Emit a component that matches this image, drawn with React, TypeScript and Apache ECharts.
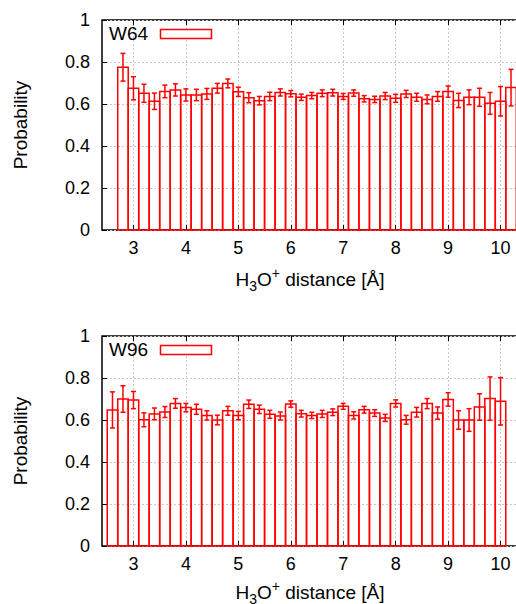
import React, { useEffect, useRef } from 'react';
import * as echarts from 'echarts';

const xTickValues = [3, 4, 5, 6, 7, 8, 9, 10];
const binWidth = 0.2;

const w64X = [2.8, 3.0, 3.2, 3.4, 3.6, 3.8, 4.0, 4.2, 4.4, 4.6, 4.8, 5.0, 5.2, 5.4, 5.6, 5.8, 6.0, 6.2, 6.4, 6.6, 6.8, 7.0, 7.2, 7.4, 7.6, 7.8, 8.0, 8.2, 8.4, 8.6, 8.8, 9.0, 9.2, 9.4, 9.6, 9.8, 10.0, 10.2];
const w64Values = [0.775, 0.675, 0.651, 0.613, 0.660, 0.667, 0.643, 0.643, 0.648, 0.675, 0.698, 0.658, 0.630, 0.616, 0.636, 0.655, 0.649, 0.632, 0.640, 0.651, 0.654, 0.636, 0.652, 0.625, 0.622, 0.638, 0.627, 0.648, 0.632, 0.622, 0.636, 0.659, 0.617, 0.632, 0.632, 0.603, 0.613, 0.678];
const w64Err = [0.066, 0.055, 0.043, 0.039, 0.030, 0.029, 0.029, 0.027, 0.026, 0.023, 0.021, 0.022, 0.024, 0.020, 0.020, 0.017, 0.015, 0.015, 0.015, 0.016, 0.016, 0.014, 0.015, 0.015, 0.015, 0.017, 0.019, 0.017, 0.019, 0.021, 0.023, 0.027, 0.034, 0.035, 0.043, 0.052, 0.070, 0.087];

const w96X = [2.6, 2.8, 3.0, 3.2, 3.4, 3.6, 3.8, 4.0, 4.2, 4.4, 4.6, 4.8, 5.0, 5.2, 5.4, 5.6, 5.8, 6.0, 6.2, 6.4, 6.6, 6.8, 7.0, 7.2, 7.4, 7.6, 7.8, 8.0, 8.2, 8.4, 8.6, 8.8, 9.0, 9.2, 9.4, 9.6, 9.8, 10.0];
const w96Values = [0.648, 0.700, 0.695, 0.601, 0.629, 0.638, 0.679, 0.659, 0.651, 0.622, 0.600, 0.644, 0.621, 0.675, 0.651, 0.627, 0.619, 0.676, 0.630, 0.622, 0.629, 0.637, 0.665, 0.622, 0.649, 0.633, 0.610, 0.679, 0.601, 0.637, 0.678, 0.633, 0.698, 0.600, 0.600, 0.662, 0.702, 0.689];
const w96Err = [0.086, 0.063, 0.041, 0.033, 0.028, 0.026, 0.023, 0.020, 0.024, 0.022, 0.023, 0.021, 0.020, 0.020, 0.020, 0.019, 0.019, 0.015, 0.016, 0.015, 0.017, 0.016, 0.014, 0.017, 0.016, 0.016, 0.017, 0.017, 0.021, 0.023, 0.024, 0.029, 0.032, 0.044, 0.054, 0.063, 0.103, 0.113];

const seriesNames = ['W64', 'W96'];

const RED = '#ff0000';
const FONT = 'Liberation Sans, Arial, Helvetica, sans-serif';
const FS = 18;
const TFS = 19;

function renderBar(params: any, api: any) {
  const x = api.value(0);
  const y = api.value(1);
  const e = api.value(2);
  const pL = api.coord([x - binWidth / 2, 0]);
  const pR = api.coord([x + binWidth / 2, y]);
  const pTop = api.coord([x, y + e]);
  const pBot = api.coord([x, y - e]);
  const cx = (pL[0] + pR[0]) / 2;
  const cap = 2.5;
  const ls = { stroke: RED, lineWidth: 1.5 };
  return {
    type: 'group',
    children: [
      { type: 'rect', shape: { x: pL[0], y: pR[1], width: pR[0] - pL[0], height: pL[1] - pR[1] }, style: { fill: 'none', stroke: RED, lineWidth: 1.5 } },
      { type: 'line', shape: { x1: cx, y1: pTop[1], x2: cx, y2: pBot[1] }, style: ls },
      { type: 'line', shape: { x1: cx - cap, y1: pTop[1], x2: cx + cap, y2: pTop[1] }, style: ls },
      { type: 'line', shape: { x1: cx - cap, y1: pBot[1], x2: cx + cap, y2: pBot[1] }, style: ls },
    ],
  };
}

export default function App() {
  const ref = useRef<HTMLDivElement>(null);
  useEffect(() => {
    if (!ref.current) return;
    const chart = echarts.init(ref.current, null, { renderer: 'svg' });
    const gridTops = [20, 336];
    const plotH = 210;
    const grids = gridTops.map((t) => ({
      left: 102, top: t, width: 430, height: plotH, show: true,
      borderColor: '#000', borderWidth: 1.5, backgroundColor: 'transparent',
    }));
    const xAxes: any[] = [];
    const yAxes: any[] = [];
    [0, 1].forEach((g) => {
      xAxes.push({
        type: 'value', gridIndex: g, min: 2.4, max: 10.6, position: 'bottom',
        axisLine: { show: false },
        axisTick: { show: true, inside: true, length: 5, customValues: xTickValues, lineStyle: { color: '#000', width: 1 } },
        axisLabel: { show: true, customValues: xTickValues, margin: 9, fontSize: FS, color: '#000', fontFamily: FONT },
        splitLine: { show: true, lineStyle: { color: '#c8c8c8', type: [2, 2], width: 1 } },
      });
      xAxes.push({
        type: 'value', gridIndex: g, min: 2.4, max: 10.6, position: 'top',
        axisLine: { show: false },
        axisTick: { show: true, inside: true, length: 5, customValues: xTickValues, lineStyle: { color: '#000', width: 1 } },
        axisLabel: { show: false },
        splitLine: { show: false },
      });
      yAxes.push({
        type: 'value', gridIndex: g, min: 0, max: 1, interval: 0.2,
        axisLine: { show: false },
        axisTick: { show: true, inside: true, length: 5, lineStyle: { color: '#000', width: 1 } },
        axisLabel: { margin: 12, fontSize: FS, color: '#000', fontFamily: FONT },
        splitLine: { show: true, lineStyle: { color: '#c8c8c8', type: [2, 2], width: 1 } },
      });
    });

    const xTitle = (y: number) => ({
      type: 'text', x: 310, y, z: 10,
      style: {
        text: '{n|H}{sub|3}{n|O}{sup|+}{n| distance [Å]}',
        align: 'center', verticalAlign: 'middle', fill: '#000',
        rich: {
          n: { fontSize: TFS, fontFamily: FONT, lineHeight: 27, fill: '#000' },
          sub: { fontSize: 14, fontFamily: FONT, lineHeight: 14, verticalAlign: 'bottom', fill: '#000' },
          sup: { fontSize: 14, fontFamily: FONT, lineHeight: 14, verticalAlign: 'top', fill: '#000' },
        },
      },
    });
    const yTitle = (y: number) => ({
      type: 'text', x: 20, y, rotation: Math.PI / 2, z: 10,
      style: { text: 'Probability', align: 'center', verticalAlign: 'middle', fontSize: TFS, fontFamily: FONT, fill: '#000' },
    });
    const legend = (top: number, name: string) => [
      { type: 'text', x: 109, y: top + 13, z: 10, style: { text: name, align: 'left', verticalAlign: 'middle', fontSize: FS + 1, fontFamily: FONT, fill: '#000' } },
      { type: 'rect', z: 10, shape: { x: 160.5, y: top + 9.5, width: 51, height: 9 }, style: { fill: '#fff', stroke: RED, lineWidth: 1.5 } },
    ];

    chart.setOption({
      animation: false,
      backgroundColor: '#fff',
      textStyle: { fontFamily: FONT },
      grid: grids,
      xAxis: xAxes,
      yAxis: yAxes,
      series: [
        {
          name: seriesNames[0], type: 'custom', xAxisIndex: 0, yAxisIndex: 0,
          renderItem: renderBar, encode: { x: 0, y: 1 },
          data: w64X.map((x, i) => [x, w64Values[i], w64Err[i]]),
        },
        {
          name: seriesNames[1], type: 'custom', xAxisIndex: 2, yAxisIndex: 1,
          renderItem: renderBar, encode: { x: 0, y: 1 },
          data: w96X.map((x, i) => [x, w96Values[i], w96Err[i]]),
        },
      ],
      graphic: [
        xTitle(279), xTitle(592), yTitle(125), yTitle(441),
        ...legend(gridTops[0], seriesNames[0]),
        ...legend(gridTops[1], seriesNames[1]),
      ],
    });
    return () => chart.dispose();
  }, []);
  return (
    <div style={{ position: 'fixed', left: 0, top: 0, width: 516, height: 604, overflow: 'hidden', background: '#fff' }}>
      <div ref={ref} style={{ width: 540, height: 604 }} />
    </div>
  );
}
